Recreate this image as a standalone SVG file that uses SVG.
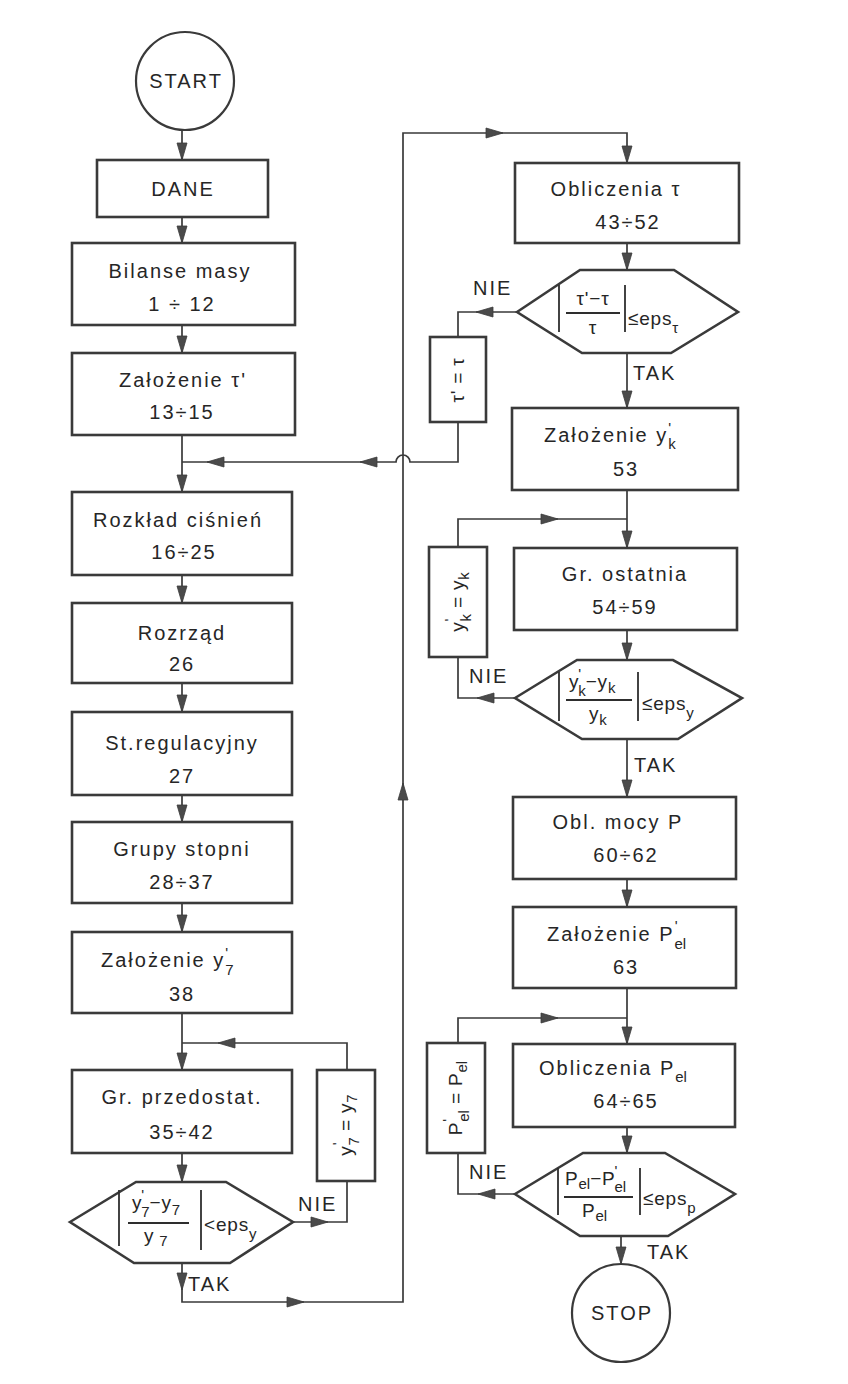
<svg xmlns="http://www.w3.org/2000/svg" xmlns:xlink="http://www.w3.org/1999/xlink" width="848" height="1384" viewBox="0 0 848 1384">
  <style>
    .bg { fill: #ffffff; }
    .box { fill: #ffffff; stroke: #3a3a3a; stroke-width: 2.6; }
    .term { fill: #ffffff; stroke: #3a3a3a; stroke-width: 2.2; }
    .wire { fill: none; stroke: #3a3a3a; stroke-width: 1.7; }
    .bar { stroke: #2e2e2e; stroke-width: 1.8; }
    .ah { fill: #4a4a4a; stroke: #3a3a3a; stroke-width: 0.8; }
    text { font-family: "Liberation Sans", "DejaVu Sans", sans-serif; fill: #262626; font-size: 20px; letter-spacing: 2px; }
    .c { text-anchor: middle; }
    .s { font-size: 15px; letter-spacing: 0; }
    .m { font-size: 19px; letter-spacing: 0.8px; }
  </style>
  <defs>
    <path id="ah" d="M0,0 L-17,-5 L-17,5 Z"/>
  </defs>
  <rect class="bg" width="848" height="1384"/>

  <!-- connectors -->
  <g id="connectors">
    <path class="wire" d="M182,130 V160 M182,217 V243 M182,325 V353 M182,435 V492 M182,575 V603 M182,683 V712 M182,795 V822 M182,903 V932 M182,1013 V1070 M182,1153 V1182"/>
    <!-- tau correction loop with jump over the return line -->
    <path class="wire" d="M517,312 H458 V337 M458,422 V462 H410 A7,7 0 0 0 396,462 H182"/>
    <!-- y7 loop -->
    <path class="wire" d="M293,1222 H347 V1181 M347,1070 V1043 H182"/>
    <!-- TAK path to right column -->
    <path class="wire" d="M182,1263 V1302 H403 V133 H627 V163"/>
    <path class="wire" d="M627,243 V270 M627,353 V408 M627,490 V548 M627,630 V660 M627,739 V797 M627,879 V907 M627,988 V1044 M627,1127 V1153 M621,1236 V1264"/>
    <!-- yk loop -->
    <path class="wire" d="M515,698 H458 V657 M458,547 V519 H627"/>
    <!-- Pel loop -->
    <path class="wire" d="M515,1194 H458 V1153 M458,1043 V1018 H627"/>

    <g class="ah">
      <use xlink:href="#ah" transform="translate(182,160) rotate(90)"/>
      <use xlink:href="#ah" transform="translate(182,243) rotate(90)"/>
      <use xlink:href="#ah" transform="translate(182,353) rotate(90)"/>
      <use xlink:href="#ah" transform="translate(182,492) rotate(90)"/>
      <use xlink:href="#ah" transform="translate(182,603) rotate(90)"/>
      <use xlink:href="#ah" transform="translate(182,712) rotate(90)"/>
      <use xlink:href="#ah" transform="translate(182,822) rotate(90)"/>
      <use xlink:href="#ah" transform="translate(182,932) rotate(90)"/>
      <use xlink:href="#ah" transform="translate(182,1070) rotate(90)"/>
      <use xlink:href="#ah" transform="translate(182,1182) rotate(90)"/>
      <use xlink:href="#ah" transform="translate(182,1290) rotate(90)"/>
      <use xlink:href="#ah" transform="translate(207,462) rotate(180)"/>
      <use xlink:href="#ah" transform="translate(360,462) rotate(180)"/>
      <use xlink:href="#ah" transform="translate(218,1043) rotate(180)"/>
      <use xlink:href="#ah" transform="translate(328,1222)"/>
      <use xlink:href="#ah" transform="translate(304,1302)"/>
      <use xlink:href="#ah" transform="translate(403,783) rotate(-90)"/>
      <use xlink:href="#ah" transform="translate(503,133)"/>
      <use xlink:href="#ah" transform="translate(627,163) rotate(90)"/>
      <use xlink:href="#ah" transform="translate(627,270) rotate(90)"/>
      <use xlink:href="#ah" transform="translate(627,408) rotate(90)"/>
      <use xlink:href="#ah" transform="translate(627,548) rotate(90)"/>
      <use xlink:href="#ah" transform="translate(627,660) rotate(90)"/>
      <use xlink:href="#ah" transform="translate(627,797) rotate(90)"/>
      <use xlink:href="#ah" transform="translate(627,907) rotate(90)"/>
      <use xlink:href="#ah" transform="translate(627,1044) rotate(90)"/>
      <use xlink:href="#ah" transform="translate(627,1153) rotate(90)"/>
      <use xlink:href="#ah" transform="translate(621,1264) rotate(90)"/>
      <use xlink:href="#ah" transform="translate(476,312) rotate(180)"/>
      <use xlink:href="#ah" transform="translate(477,698) rotate(180)"/>
      <use xlink:href="#ah" transform="translate(558,519)"/>
      <use xlink:href="#ah" transform="translate(478,1194) rotate(180)"/>
      <use xlink:href="#ah" transform="translate(558,1018)"/>
    </g>

    <text x="298" y="1211">NIE</text>
    <text x="188" y="1291">TAK</text>
    <text x="473" y="295">NIE</text>
    <text x="633" y="380">TAK</text>
    <text x="469" y="683">NIE</text>
    <text x="634" y="772">TAK</text>
    <text x="469" y="1179">NIE</text>
    <text x="647" y="1259">TAK</text>
  </g>

  <!-- left column -->
  <g id="start">
    <circle class="term" cx="185" cy="81" r="49"/>
    <text class="c" x="186" y="88">START</text>
  </g>
  <g id="dane">
    <rect class="box" x="97" y="160" width="171" height="57"/>
    <text class="c" x="183" y="196">DANE</text>
  </g>
  <g id="bilanse">
    <rect class="box" x="72" y="243" width="223" height="82"/>
    <text class="c" x="180" y="278">Bilanse  masy</text>
    <text class="c" x="182" y="311">1 ÷ 12</text>
  </g>
  <g id="zal-tau">
    <rect class="box" x="72" y="353" width="223" height="82"/>
    <text class="c" x="183" y="387">Założenie  τ'</text>
    <text class="c" x="182" y="419">13÷15</text>
  </g>
  <g id="rozklad">
    <rect class="box" x="72" y="492" width="220" height="83"/>
    <text class="c" x="178" y="527">Rozkład  ciśnień</text>
    <text class="c" x="184" y="559">16÷25</text>
  </g>
  <g id="rozrzad">
    <rect class="box" x="72" y="603" width="220" height="80"/>
    <text class="c" x="182" y="640">Rozrząd</text>
    <text class="c" x="182" y="671">26</text>
  </g>
  <g id="st-reg">
    <rect class="box" x="72" y="712" width="220" height="83"/>
    <text class="c" x="182" y="750">St.regulacyjny</text>
    <text class="c" x="182" y="783">27</text>
  </g>
  <g id="grupy">
    <rect class="box" x="72" y="822" width="220" height="81"/>
    <text class="c" x="182" y="856">Grupy  stopni</text>
    <text class="c" x="182" y="889">28÷37</text>
  </g>
  <g id="zal-y7">
    <rect class="box" x="72" y="932" width="220" height="81"/>
    <text x="101" y="967">Założenie  y<tspan class="s" dy="-9">'</tspan><tspan class="s" dx="-3" dy="17">7</tspan></text>
    <text class="c" x="182" y="1001">38</text>
  </g>
  <g id="gr-przed">
    <rect class="box" x="72" y="1070" width="220" height="83"/>
    <text class="c" x="182" y="1104">Gr. przedostat.</text>
    <text class="c" x="182" y="1139">35÷42</text>
  </g>
  <g id="y7-set">
    <rect class="box" x="317" y="1070" width="58" height="111"/>
    <text class="m c" transform="rotate(-90 346 1125)" x="346" y="1131">y<tspan class="s" dy="-9">'</tspan><tspan class="s" dx="-3" dy="16">7</tspan><tspan dy="-7"> = y</tspan><tspan class="s" dy="5">7</tspan></text>
  </g>
  <g id="dec-y7">
    <polygon class="box" points="70,1222 136,1182 226,1182 293,1222 230,1263 134,1263"/>
    <line class="bar" x1="119" y1="1190" x2="119" y2="1246"/>
    <line class="bar" x1="201" y1="1190" x2="201" y2="1250"/>
    <line class="bar" x1="128" y1="1223" x2="189" y2="1223" stroke-width="1.4"/>
    <text class="m" x="132" y="1209">y<tspan class="s" dy="-9" dx="-1">'</tspan><tspan class="s" dx="-3" dy="17">7</tspan><tspan dy="-8">−y</tspan><tspan class="s" dy="6">7</tspan></text>
    <text class="m" x="144" y="1242">y<tspan class="s" dx="5" dy="4">7</tspan></text>
    <text class="m" x="204" y="1231">&lt;eps<tspan class="s" dy="8">y</tspan></text>
  </g>

  <!-- right column -->
  <g id="obl-tau">
    <rect class="box" x="515" y="163" width="224" height="80"/>
    <text class="c" x="616" y="196">Obliczenia  τ</text>
    <text class="c" x="628" y="229">43÷52</text>
  </g>
  <g id="dec-tau">
    <polygon class="box" points="517,312 580,270 674,270 738,312 671,353 582,353"/>
    <line class="bar" x1="559" y1="285" x2="559" y2="332"/>
    <line class="bar" x1="625" y1="285" x2="625" y2="332"/>
    <line class="bar" x1="566" y1="313" x2="620" y2="313" stroke-width="1.4"/>
    <text class="m c" x="593" y="305">τ'−τ</text>
    <text class="m c" x="593" y="334">τ</text>
    <text class="m" x="628" y="325">≤eps<tspan class="s" dy="8">τ</tspan></text>
  </g>
  <g id="tau-set">
    <rect class="box" x="430" y="337" width="56" height="85"/>
    <text class="m c" transform="rotate(-90 458 380)" x="458" y="386">τ' = τ</text>
  </g>
  <g id="zal-yk">
    <rect class="box" x="512" y="408" width="226" height="82"/>
    <text x="544" y="442">Założenie  y<tspan class="s" dy="-9">'</tspan><tspan class="s" dx="-3" dy="16">k</tspan></text>
    <text class="c" x="626" y="476">53</text>
  </g>
  <g id="gr-ost">
    <rect class="box" x="514" y="548" width="223" height="82"/>
    <text class="c" x="625" y="581">Gr. ostatnia</text>
    <text class="c" x="625" y="614">54÷59</text>
  </g>
  <g id="yk-set">
    <rect class="box" x="429" y="547" width="58" height="110"/>
    <text class="m c" transform="rotate(-90 458 602)" x="458" y="608">y<tspan class="s" dy="-9">'</tspan><tspan class="s" dx="-3" dy="16">k</tspan><tspan dy="-7"> = y</tspan><tspan class="s" dy="5">k</tspan></text>
  </g>
  <g id="dec-yk">
    <polygon class="box" points="515,698 577,660 673,660 742,698 678,739 582,739"/>
    <line class="bar" x1="559" y1="672" x2="559" y2="721"/>
    <line class="bar" x1="638" y1="672" x2="638" y2="721"/>
    <line class="bar" x1="566" y1="700" x2="632" y2="700" stroke-width="1.4"/>
    <text class="m" x="569" y="688">y<tspan class="s" dy="-9" dx="-1">'</tspan><tspan class="s" dx="-3" dy="17">k</tspan><tspan dy="-8">−y</tspan><tspan class="s" dy="5">k</tspan></text>
    <text class="m" x="589" y="720">y<tspan class="s" dy="5">k</tspan></text>
    <text class="m" x="642" y="710">≤eps<tspan class="s" dy="8">y</tspan></text>
  </g>
  <g id="obl-mocy">
    <rect class="box" x="513" y="797" width="223" height="82"/>
    <text class="c" x="618" y="829">Obl. mocy  P</text>
    <text class="c" x="626" y="862">60÷62</text>
  </g>
  <g id="zal-pel">
    <rect class="box" x="513" y="907" width="223" height="81"/>
    <text x="547" y="941">Założenie  P<tspan class="s" dy="-10">'</tspan><tspan class="s" dx="-3" dy="18">el</tspan></text>
    <text class="c" x="626" y="974">63</text>
  </g>
  <g id="obl-pel">
    <rect class="box" x="513" y="1044" width="222" height="83"/>
    <text x="539" y="1075">Obliczenia  P<tspan class="s" dy="7">el</tspan></text>
    <text class="c" x="626" y="1108">64÷65</text>
  </g>
  <g id="pel-set">
    <rect class="box" x="427" y="1043" width="58" height="110"/>
    <text class="m c" transform="rotate(-90 456 1098)" x="456" y="1104">P<tspan class="s" dy="-9">'</tspan><tspan class="s" dx="-3" dy="16">el</tspan><tspan dy="-7"> = P</tspan><tspan class="s" dy="5">el</tspan></text>
  </g>
  <g id="dec-pel">
    <polygon class="box" points="515,1194 583,1153 665,1153 735,1194 668,1236 580,1236"/>
    <line class="bar" x1="558" y1="1168" x2="558" y2="1215"/>
    <line class="bar" x1="640" y1="1168" x2="640" y2="1215"/>
    <line class="bar" x1="564" y1="1197" x2="633" y2="1197" stroke-width="1.4"/>
    <text class="m" x="565" y="1185">P<tspan class="s" dy="4">el</tspan><tspan dy="-4">−P</tspan><tspan class="s" dy="-9" dx="-1">'</tspan><tspan class="s" dx="-3" dy="16">el</tspan></text>
    <text class="m" x="582" y="1217">P<tspan class="s" dy="4">el</tspan></text>
    <text class="m" x="643" y="1205">≤eps<tspan class="s" dy="8">p</tspan></text>
  </g>
  <g id="stop">
    <circle class="term" cx="621" cy="1313" r="49"/>
    <text class="c" x="622" y="1320">STOP</text>
  </g>
</svg>
